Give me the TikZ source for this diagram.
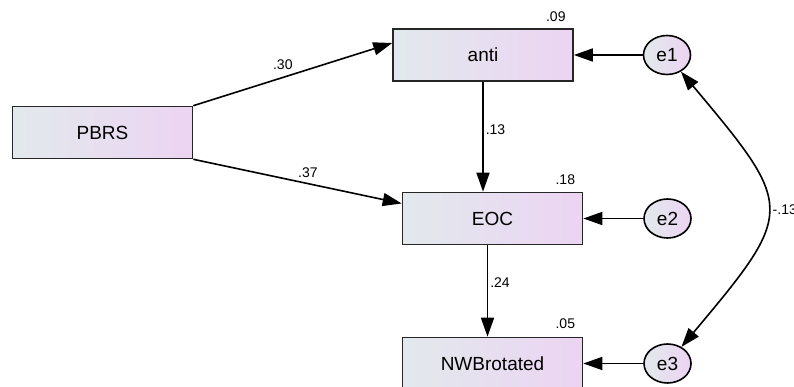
\documentclass[tikz,border=0pt]{standalone}
\usepackage{fontspec}
\setmainfont{Liberation Sans}
\usetikzlibrary{shapes,arrows,arrows.meta}
\usetikzlibrary{calc}
\definecolor{boxleft}{HTML}{E2E9EC}
\definecolor{boxright}{HTML}{ECD4F3}
\tikzstyle{line} = [draw, line width=1.6pt, -{Triangle[length=19pt,width=13pt]}]
\tikzstyle{var} = [draw=black!85, line width=1.6pt, rectangle, left color=boxleft, right color=boxright, minimum width=180pt, minimum height=52pt, inner sep=0pt, font=\fontsize{19}{22}\selectfont]
\tikzstyle{err} = [draw, line width=1.6pt, ellipse, left color=boxleft, right color=boxright, minimum width=47pt, minimum height=39pt, inner sep=0pt, font=\fontsize{19}{22}\selectfont]
\tikzstyle{coef} = [font=\fontsize{14}{17}\selectfont, inner sep=2pt]

\begin{document}
\begin{tikzpicture} [x=1pt, y=1pt, node distance=145pt]

        \useasboundingbox (0,0) rectangle (794,-387);

        \node[var] (PBRS) at (102.5,-132.5) {PBRS};
        \node[var] (anti) at (483,-55) {anti};
        \node[var] (EOC) at (492.5,-218.5) {EOC};
        \node[var] (NWB) [below of=EOC] {NWBrotated};
        \node[err] (e1) [right of=anti, node distance=184pt] {e1};
        \node[err] (e2) [right of=EOC, node distance=175pt] {e2};
        \node[err] (e3) [right of=NWB, node distance=175pt] {e3};

        \node[coef] (r2anti) at ($(anti.north east)+(-18,12)$) {.09};
        \node[coef] (r2EOC) at ($(EOC.north east)+(-18,12)$) {.18};
        \node[coef] (r2NWB) at ($(NWB.north east)+(-18,13)$) {.05};


        \path (PBRS.north east) edge[line] node[coef, pos=0.45, above=5pt]{.30} ([yshift=12pt]anti.west);
        \path (PBRS.south east) edge[line] node[coef, pos=0.55, above=3pt]{.37} ([yshift=15pt]EOC.west);
        \path (anti.south) edge[line] node[coef, pos=0.44, right]{.13} (anti.south |- EOC.north);
        \path ([xshift=-5pt]EOC.south) edge[line] node[coef, pos=0.41, right]{.24} ([xshift=-5pt]NWB.north);
        \path (e1) edge[line] (anti);
        \path (e2) edge[line] (EOC);
        \path (e3) edge[line] (NWB);
        \path (e1) edge[line, {Triangle[length=19pt,width=13pt]}-{Triangle[length=19pt,width=13pt]}, out=-50, in=50, looseness=1.65] node[coef, pos=0.5, right=3pt]{-.13} (e3);


        \end{tikzpicture}
\end{document}
